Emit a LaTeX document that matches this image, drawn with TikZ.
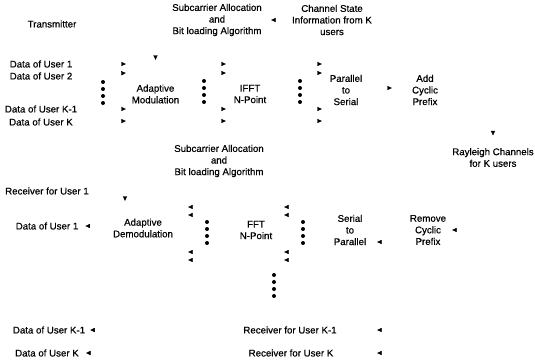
\documentclass[tikz,border=0pt]{standalone}
\usepackage{fontspec}
\setmainfont{Liberation Sans}[FakeBold=0.5]
\usetikzlibrary{arrows.meta}
\begin{document}
\begin{tikzpicture}[x=1pt,y=-1pt,
  every node/.style={font=\fontsize{9.7}{11.6}\selectfont, inner sep=0pt, align=center},
  conn/.style={draw=white, -{Triangle[length=4.5pt,width=4.2pt,color=black]}},
  rxlabel/.style={inner xsep=7pt},
  dot/.style={radius=2pt}]
\fill[white] (0,0) rectangle (535,362);
\useasboundingbox (0,0) rectangle (535,362);

% ---------------- transmitter ----------------
\node (tx) at (52,24) {Transmitter};
\node[minimum width=108pt, minimum height=40pt] (sub1) at (217,20)
  {Subcarrier Allocation\\and\\Bit loading Algorithm};
\node (chan) at (332,20) {Channel State\\Information from K\\users};

\node (d1) at (41,64) {Data of User 1};
\node (d2) at (41,76) {Data of User 2};
\node (dK1) at (41,109) {Data of User K-1};
\node (dK) at (41,122) {Data of User K};

\node[minimum width=59pt, minimum height=68pt] (mod) at (155.5,94) {Adaptive\\Modulation};
\node[minimum width=48pt, minimum height=68pt] (ifft) at (250,94) {IFFT\\N-Point};
\node[minimum width=48pt, minimum height=68pt] (ps) at (346,90) {Parallel\\to\\Serial};
\node[minimum width=66pt, minimum height=40pt] (acp) at (425,90) {Add\\Cyclic\\Prefix};
\node[minimum width=84pt, minimum height=44pt] (ray) at (493,157.5) {Rayleigh Channels\\for K users};

\draw[conn] (chan.west) -- (sub1.east);
\draw[conn] (sub1.west) -| (mod.north);
\draw[conn] (d1.east) -- (mod.west |- 0,64);
\draw[conn] (d2.east) -- (mod.west |- 0,73);
\draw[conn] (dK1.east) -- (mod.west |- 0,109);
\draw[conn] (dK.east) -- (mod.west |- 0,121);
\foreach \r in {64,73,109,121} {
  \draw[conn] (mod.east |- 0,\r) -- (ifft.west |- 0,\r);
  \draw[conn] (ifft.east |- 0,\r) -- (ps.west |- 0,\r);
}
\draw[conn] (ps.east |- 0,88) -- (acp.west |- 0,88);
\draw[conn] (acp.east) -| (ray.north);

\foreach \k in {0,1,2,3} {
  \fill[dot] (103,82+7*\k) circle;
  \fill[dot] (204,81+7*\k) circle;
  \fill[dot] (300,81+7*\k) circle;
}

% ---------------- receiver ----------------
\node[minimum width=90pt, minimum height=88pt] (sub2) at (219,161)
  {Subcarrier Allocation\\and\\Bit loading Algorithm};
\node[anchor=west] (rx1) at (5,191) {Receiver for User 1};
\node[rxlabel] (du1) at (47,226) {Data of User 1};
\node[minimum width=90pt, minimum height=54pt] (demod) at (143,228) {Adaptive\\Demodulation};
\node[minimum width=56pt, minimum height=68pt] (fft) at (256,230) {FFT\\N-Point};
\node[minimum width=54pt, minimum height=44pt] (s2p) at (350,230) {Serial\\to\\Parallel};
\node[minimum width=48pt, minimum height=44pt] (rcp) at (428,230) {Remove\\Cyclic\\Prefix};

\draw[conn] (sub2.west) -| ([xshift=-18pt]demod.north);
\draw[conn] (ray.south) |- (rcp.east);
\draw[conn] (rcp.west |- 0,242) -- (s2p.east |- 0,242);
\foreach \r in {207,215,252,260} {
  \draw[conn] (s2p.west |- 0,\r) -- (fft.east |- 0,\r);
  \draw[conn] (fft.west |- 0,\r) -- (demod.east |- 0,\r);
}
\draw[conn] (demod.west |- 0,226) -- (du1.east);

\foreach \k in {0,1,2,3} {
  \fill[dot] (207,222+7*\k) circle;
  \fill[dot] (303,222+7*\k) circle;
  \fill[dot] (274,275+7*\k) circle;
}

\node[minimum width=174pt] (rxK1) at (290,330) {Receiver for User K-1};
\node[minimum width=172pt] (rxK) at (291,353) {Receiver for User K};
\node[rxlabel, inner xsep=5pt] (duK1) at (49,330) {Data of User K-1};
\node[rxlabel] (duK) at (47,353) {Data of User K};

\draw[conn] (ray.south) |- (rxK1.east);
\draw[conn] (ray.south) |- (rxK.east);
\draw[conn] (rxK1.west) -- (duK1.east);
\draw[conn] (rxK.west) -- (duK.east);
\end{tikzpicture}
\end{document}
